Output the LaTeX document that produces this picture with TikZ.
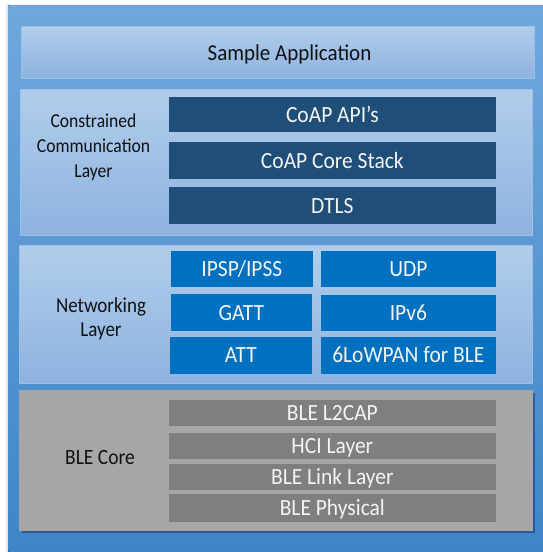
\documentclass[tikz,border=0pt]{standalone}
\usepackage{fontspec}
\setmainfont{Carlito}
\definecolor{outerTop}{HTML}{70A8DD}
\definecolor{outerBot}{HTML}{3E86C7}
\definecolor{panelTop}{HTML}{B1CDEB}
\definecolor{panelBot}{HTML}{8EB3E0}
\definecolor{panelEdge}{HTML}{9DC0E6}
\definecolor{darkBox}{HTML}{1F4E79}
\definecolor{midBox}{HTML}{0070C0}
\definecolor{coreGray}{HTML}{A6A6A6}
\definecolor{coreInner}{HTML}{7F7F7F}
\definecolor{labelInk}{HTML}{111111}
\definecolor{boxInk}{HTML}{F4F4F4}
\newcommand{\celltext}[1]{\scalebox{1}[1.08]{#1}}
\newcommand{\labeltext}[1]{\scalebox{1}[1.12]{\begin{tabular}{@{}c@{}}#1\end{tabular}}}
\tikzset{
  panel/.style={draw=panelEdge, line width=0.8pt, top color=panelTop, bottom color=panelBot, inner sep=0pt},
  cell/.style={inner sep=0pt, text=boxInk, font=\fontsize{21.5}{24}\selectfont, text height=14.8pt, text depth=0pt},
  darkcell/.style={cell, fill=darkBox},
  midcell/.style={cell, fill=midBox},
  graycell/.style={cell, fill=coreInner},
  layerlabel/.style={inner sep=0pt, text=labelInk, font=\fontsize{17.6}{22.2}\selectfont}
}
\begin{document}
\begin{tikzpicture}[x=1pt,y=-1pt]
\useasboundingbox (0,0) rectangle (543,552);
\fill[white] (0,0) rectangle (543,552);
\fill[black!10] (6,3.5) rectangle (9,552);
\fill[black!6] (6,3.5) rectangle (545,5.5);
\fill[top color=outerTop, bottom color=outerBot] (8.3,5.2) rectangle (545,553);

% Sample application
\node[panel, minimum width=512.2pt, minimum height=52pt] (app) at (277.9,52) {};
\node[inner sep=0pt, text=labelInk, font=\fontsize{21}{24}\selectfont, text height=14.5pt, text depth=0pt] (apptext) at (289.5,53.3) {\celltext{Sample Application}};

% Constrained communication layer
\node[panel, minimum width=511.9pt, minimum height=146.3pt] (ccl) at (276,162.2) {};
\node[layerlabel] (ccllabel) at (93.5,147.3) {\labeltext{Constrained\\Communication\\Layer}};
\node[darkcell, minimum width=326.7pt, minimum height=35pt] (coapapi) at (332.35,114.8) {\celltext{CoAP API’s}};
\node[darkcell, minimum width=326.7pt, minimum height=36.7pt] (coapcore) at (332.35,160.65) {\celltext{CoAP Core Stack}};
\node[darkcell, minimum width=326.7pt, minimum height=36.7pt] (dtls) at (332.35,205.65) {\celltext{DTLS}};

% Networking layer
\node[panel, minimum width=513pt, minimum height=138.3pt] (net) at (275.5,314.15) {};
\node[layerlabel, font=\fontsize{19}{22}\selectfont] (netlabel) at (101,319.5) {\labeltext{Networking\\Layer}};
\node[midcell, minimum width=141.7pt, minimum height=36.6pt] (ipsp) at (241.85,269) {\celltext{IPSP/IPSS}};
\node[midcell, minimum width=140.7pt, minimum height=36.7pt] (gatt) at (241.35,312.65) {\celltext{GATT}};
\node[midcell, minimum width=141.7pt, minimum height=36.8pt] (att) at (240.85,355.1) {\celltext{ATT}};
\node[midcell, minimum width=174.7pt, minimum height=36.6pt] (udp) at (408.35,269) {\celltext{UDP}};
\node[midcell, minimum width=174.7pt, minimum height=36pt] (ipv6) at (408.35,313) {\celltext{IPv6}};
\node[midcell, minimum width=174.7pt, minimum height=36.7pt] (lowpan) at (408.35,355.35) {\celltext{6LoWPAN for BLE}};

% BLE core
\fill[black!60!blue!70!black, opacity=0.35] (22,393.3) rectangle (535.3,533);
\node[draw=black!35, line width=0.6pt, fill=coreGray, minimum width=513.3pt, minimum height=139.7pt, inner sep=0pt] (core) at (275.65,460.15) {};
\node[layerlabel, font=\fontsize{19.5}{22}\selectfont] (corelabel) at (100,459.7) {\labeltext{BLE Core}};
\node[graycell, minimum width=326.7pt, minimum height=26pt] (l2cap) at (332.35,413) {\celltext{BLE L2CAP}};
\node[graycell, minimum width=326.7pt, minimum height=26pt] (hci) at (332.35,445.7) {\celltext{HCI Layer}};
\node[graycell, minimum width=326.7pt, minimum height=25.7pt] (link) at (332.35,477.15) {\celltext{BLE Link Layer}};
\node[graycell, minimum width=326.7pt, minimum height=27.4pt] (phy) at (332.35,508) {\celltext{BLE Physical}};
\end{tikzpicture}
\end{document}
